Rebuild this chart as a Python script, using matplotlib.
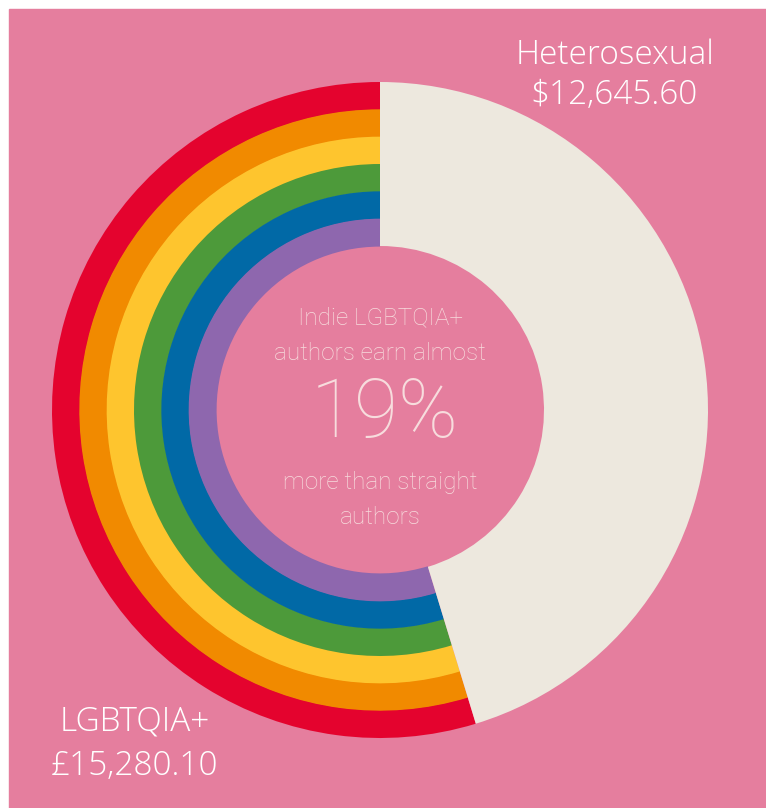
import matplotlib.pyplot as plt
from matplotlib.patches import Rectangle

# data
groups = ["Heterosexual", "LGBTQIA+"]
earnings = [12645.60, 15280.10]
earning_labels = ["$12,645.60", "£15,280.10"]
ring_colors = ["#E4032E", "#F18A00", "#FEC52E", "#4D9A3A", "#0169A6", "#8E67AE"]
center_lines = ["Indie LGBTQIA+", "authors earn almost", "19%", "more than straight", "authors"]

BG = "#E57E9E"
CREAM = "#EDE8DE"
W, H = 766, 808

fig = plt.figure(figsize=(W / 100, H / 100), dpi=100, facecolor="white")
ax = fig.add_axes([0, 0, 1, 1])
ax.add_patch(Rectangle((9, 0), W - 9, H - 9, color=BG, zorder=0))

cx, cy = 380, H - 410
r_out, r_in = 328, 164
ring_w = (r_out - r_in) / len(ring_colors)

# rainbow rings for the LGBTQIA+ share
for i, col in enumerate(ring_colors):
    ax.pie(earnings, radius=r_out - i * ring_w, center=(cx, cy),
           colors=["none", col], startangle=90, counterclock=False,
           wedgeprops=dict(width=ring_w + 0.6, linewidth=0), frame=True)

# heterosexual share
ax.pie(earnings, radius=r_out, center=(cx, cy), colors=[CREAM, "none"],
       startangle=90, counterclock=False,
       wedgeprops=dict(width=r_out - r_in, linewidth=0), frame=True)
ax.set_xlim(0, W)
ax.set_ylim(0, H)
ax.set_aspect("equal")
ax.axis("off")

lab_font = dict(family="Open Sans", fontweight="light", color="white", fontsize=24,
                ha="center", va="center")
ax.text(615, H - 55, groups[0], **lab_font)
ax.text(614, H - 95, earning_labels[0], **lab_font)
ax.text(135, H - 722, groups[1], **lab_font)
ax.text(135, H - 766, earning_labels[1], **lab_font)

txt_col = "#F7DCDD"
ctr_font = dict(family="Roboto", fontweight="light", color=txt_col,
                ha="center", va="center")
ax.text(cx, H - 318, center_lines[0], fontsize=17.5, **ctr_font)
ax.text(cx, H - 353, center_lines[1], fontsize=17.5, **ctr_font)
ax.text(cx + 5, H - 415, center_lines[2], fontsize=58, **ctr_font)
ax.text(cx, H - 482, center_lines[3], fontsize=17.5, **ctr_font)
ax.text(cx, H - 517, center_lines[4], fontsize=17.5, **ctr_font)

fig.savefig("out.png", dpi=100, facecolor="white")
